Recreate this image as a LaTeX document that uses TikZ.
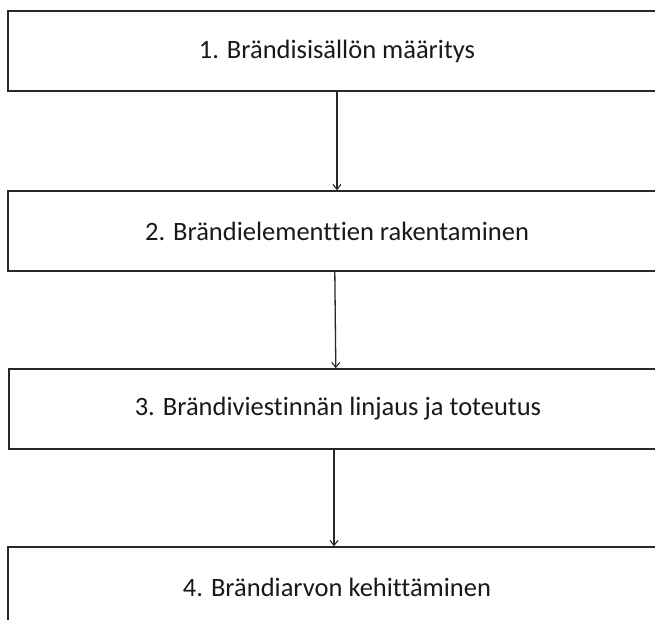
\documentclass[tikz,border=0pt]{standalone}
\usepackage{fontspec}
\setmainfont[Ligatures={NoCommon}]{Carlito}
\usetikzlibrary{arrows.meta}
\definecolor{edge}{RGB}{40,40,40}
\begin{document}
\begin{tikzpicture}[x=1pt,y=1pt,
  stepbox/.style={draw=edge, line width=1.4pt, fill=white, minimum width=658pt, minimum height=80pt, inner sep=0pt, font=\fontsize{26.5}{30}\selectfont, text=black!90},
  flow/.style={draw=edge, line width=1.3pt, -{Straight Barb[length=5pt,width=8pt,line width=1.1pt]}}]
\clip (0,0) rectangle (655,620);
\fill[white] (0,0) rectangle (655,620);
\node[stepbox] (b1) at (337,569) {1. Brändisisällön määritys};
\node[stepbox] (b2) at (337,389) {2. Brändielementtien rakentaminen};
\node[stepbox] (b3) at (338,211) {3. Brändiviestinnän linjaus ja toteutus};
\node[stepbox] (b4) at (337,33) {4. Brändiarvon kehittäminen};
\draw[flow] (b1.south) -- (b2.north);
\draw[flow] ([xshift=-2.2pt]b2.south) -- ([xshift=-2.2pt]b3.north);
\draw[flow] ([xshift=-4pt]b3.south) -- ([xshift=-3pt]b4.north);
\end{tikzpicture}
\end{document}
